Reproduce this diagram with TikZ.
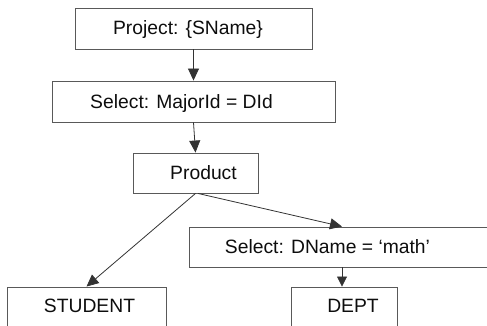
\documentclass[tikz,border=0pt]{standalone}
\usepackage{fontspec}
\setmainfont{Liberation Sans}
\usetikzlibrary{arrows.meta,calc}
\begin{document}
\begin{tikzpicture}[x=1pt,y=-1pt,
  box/.style={draw=black!65,line width=0.9pt,rectangle,inner sep=0pt},
  lbl/.style={anchor=base,inner sep=0pt,font=\fontsize{19.3}{23}\selectfont,text=black!95},
  arr/.style={draw=black!80,line width=0.8pt,-{Triangle[length=12pt,width=11pt]}}]
\useasboundingbox (0,0) rectangle (487,326);
\clip (0,0) rectangle (487,326);
\node[box,minimum width=237pt,minimum height=41pt] (p) at (193.5,28.5) {};
\node[box,minimum width=283pt,minimum height=41pt] (s1) at (193.5,101.5) {};
\node[box,minimum width=125pt,minimum height=40pt] (prod) at (195.5,173) {};
\node[box,minimum width=306pt,minimum height=40pt] (s2) at (342,247) {};
\node[box,minimum width=159pt,minimum height=53pt] (stu) at (86.5,313.5) {};
\node[box,minimum width=106pt,minimum height=53pt] (dept) at (344,313.5) {};
\node[lbl] (tp) at (188,34.3) {Project: \{SName\}};
\node[lbl] (ts1) at (181.5,108.3) {Select: MajorId = DId};
\node[lbl] (tprod) at (203.5,179) {Product};
\node[lbl] (ts2) at (327.5,253.3) {Select: DName = ‘math’};
\node[lbl] (tstu) at (89.5,312.7) {STUDENT};
\node[lbl] (tdept) at (353,312.7) {DEPT};
\draw[arr] (p.south) -- (s1.north);
\draw[arr] (s1.south) -- (prod.north);
\draw[arr] (prod.south) -- (stu.north);
\draw[arr] ($(prod.south)+(2.5,0)$) -- (s2.north);
\draw[arr,-{Triangle[length=10pt,width=10pt]}] (s2.south) -- (s2.south |- dept.north);
\end{tikzpicture}
\end{document}
